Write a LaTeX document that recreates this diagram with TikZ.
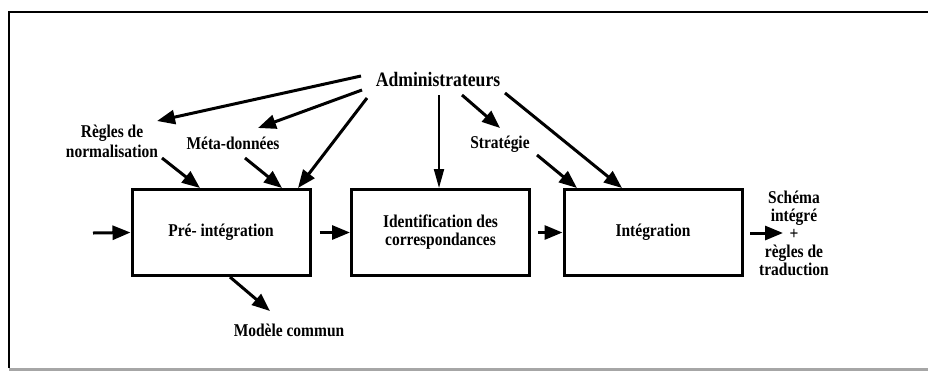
\documentclass[tikz,border=0pt]{standalone}
\usepackage{fontspec}
\setmainfont{Liberation Serif}[FakeStretch=0.86]
\usetikzlibrary{arrows.meta}
\begin{document}
\begin{tikzpicture}[x=1pt,y=-1pt,
  procbox/.style={draw,line width=3pt,minimum width=178pt,minimum height=86pt,inner sep=0pt,align=center,font=\fontsize{18}{18}\selectfont\bfseries},
  lbl/.style={inner sep=0pt,align=center,font=\fontsize{18}{20}\selectfont\bfseries},
  arr/.style={line width=3pt,-{Triangle[length=18pt,width=14pt]}},
  thinarr/.style={line width=2pt,-{Triangle[length=19pt,width=10pt]}}]
\useasboundingbox (0,0) rectangle (928,376);
% frame
\draw[line width=1.5pt] (9,368) -- (9,12) -- (930,12);
\draw[line width=3pt,gray!70] (9,369) -- (930,369);
% boxes
\node[procbox] (b1) at (221,232.5) {Pré- intégration};
\node[procbox] (b2) at (440.5,232.5) {Identification des\\correspondances};
\node[procbox] (b3) at (653,232.5) {Intégration};
% labels
\node[lbl,font=\fontsize{20.5}{20}\selectfont\bfseries] (adm) at (438,80) {Administrateurs};
\node[lbl] (regles) at (112,141) {Règles de\\normalisation};
\node[lbl] (meta) at (233,143) {Méta-données};
\node[lbl] (strat) at (500,144) {Stratégie};
\node[lbl] (mod) at (289,330) {Modèle commun};
\node[lbl,font=\fontsize{18}{18}\selectfont\bfseries] (out) at (794,233) {Schéma\\intégré\\+\\règles de\\traduction};
% coordinates
\coordinate (a1) at (361,76);
\coordinate (a2) at (362,90);
\coordinate (a3) at (367,98);
\coordinate (a4) at (439,95);
\coordinate (a5) at (462,95);
\coordinate (a6) at (505,93);
\coordinate (tR) at (157,121);
\coordinate (tM) at (258,128);
\coordinate (tS) at (500,128);
\coordinate (in) at (93,233);
\coordinate (o1) at (750,233);
\coordinate (o2) at (783,233);
% arrows from administrateurs
\draw[arr] (a1) -- (tR);
\draw[arr] (a2) -- (tM);
\draw[arr] (a3) -- (b1.north east -| 298,0);
\draw[thinarr] (a4) -- (b2.north -| a4);
\draw[arr] (a5) -- (tS);
\draw[arr] (a6) -- (b3.north -| 622,0);
% into boxes from labels
\draw[arr] (162,158) -- (b1.north -| 200,0);
\draw[arr] (245,158) -- (b1.north -| 282,0);
\draw[arr] (537,155) -- (b3.north -| 577,0);
% horizontal flow
\draw[arr] (in) -- (b1.west);
\draw[arr] (b1.east) ++(8,0) -- (b2.west);
\draw[arr] (b2.east) ++(7,0) -- (b3.west);
\draw[arr] (o1) -- (o2);
% to modèle commun
\draw[arr] (b1.south -| 230,0) -- (270,311);
\end{tikzpicture}
\end{document}
